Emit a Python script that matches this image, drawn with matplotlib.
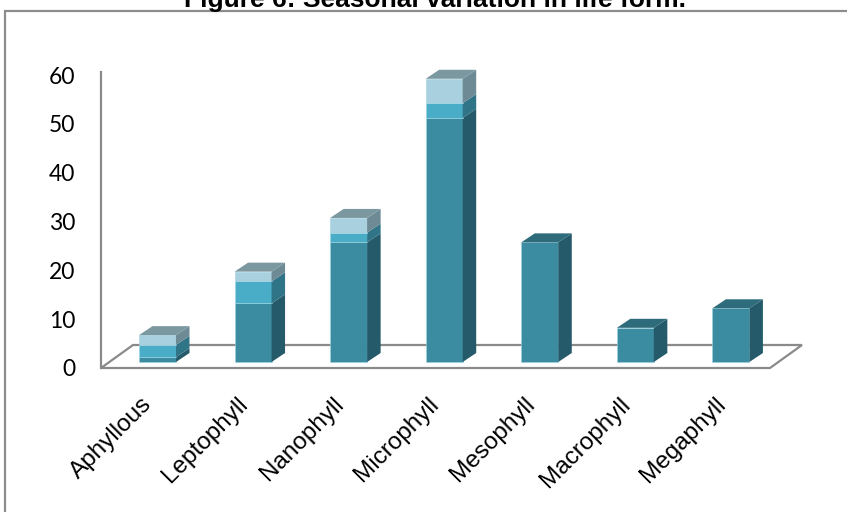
import matplotlib
matplotlib.use("Agg")
import matplotlib.pyplot as plt
from matplotlib.patches import Polygon, Rectangle

categories = ["Aphyllous", "Leptophyll", "Nanophyll", "Microphyll",
              "Mesophyll", "Macrophyll", "Megaphyll"]
# three stacked series, bottom to top
series_1 = [1, 12, 24.5, 50, 24.5, 7, 11]
series_2 = [2.5, 4.5, 2, 3, 0, 0, 0]
series_3 = [2, 2, 3, 5, 0, 0, 0]
yticks = [0, 10, 20, 30, 40, 50, 60]

# front / side / top shades for each series
colors = [
    ("#3b8ba1", "#245a69", "#2e6c7b"),
    ("#4aadc7", "#2f7487", "#357f93"),
    ("#a9d0de", "#6e8a94", "#7b979f"),
]

W, H = 847, 512


def main():
    fig = plt.figure(figsize=(W / 100, H / 100), dpi=100)

    # chart area border (runs off the right and bottom of the image)
    fig.patches.append(Rectangle((5 / W, -0.2), 2.0, 1.2 - 11 / H,
                                 transform=fig.transFigure, fill=False,
                                 edgecolor="#8c8c8c", lw=1.6))
    fig.text(435 / W, 1 - 7 / H, "Figure 6: Seasonal variation in life form.",
             ha="center", va="baseline", fontsize=19, fontweight="bold",
             family="Liberation Sans")

    ax = fig.add_axes([101 / W, 144 / H, 669 / W, 293 / H])
    ax.set_xlim(-0.5, 6.5)
    ax.set_ylim(0, 60)
    for s in ax.spines.values():
        s.set_visible(False)
    ax.patch.set_visible(False)

    px_x = 669 / 7
    px_y = 293 / 60
    bw = 37 / px_x
    ox, oy = 8.7 / px_x, 6 / px_y        # bar plane offset behind front
    dx, dy = 13.5 / px_x, 9 / px_y       # bar depth
    fx, fy = 32 / px_x, 23 / px_y        # floor depth

    # floor and value axis line
    floor = [(-0.5, 0), (6.5, 0), (6.5 + fx, fy), (-0.5 + fx, fy)]
    ax.add_patch(Polygon(floor, closed=True, fill=False, edgecolor="#8a8a8a",
                         lw=1.6, zorder=1, clip_on=False))
    ax.plot([-0.5, -0.5], [0, 60.6], color="#8a8a8a", lw=1.6, zorder=1,
            clip_on=False)

    data = [series_1, series_2, series_3]
    base = [0.0] * len(categories)
    top_idx = [max([k for k in range(3) if data[k][i] > 0])
               for i in range(len(categories))]
    for k, vals in enumerate(data):
        front, side, top = colors[k]
        for i, v in enumerate(vals):
            if v <= 0:
                continue
            x = i + ox
            b = base[i] + oy
            t = b + v
            ax.bar(x, v, width=bw, bottom=b, color=front,
                   edgecolor="#9fd3e3", lw=0.4, zorder=3, clip_on=False)
            r = x + bw / 2
            ax.add_patch(Polygon([(r, b), (r + dx, b + dy), (r + dx, t + dy),
                                  (r, t)], closed=True, facecolor=side,
                                 edgecolor="none", zorder=3, clip_on=False))
            if k == top_idx[i]:
                l = x - bw / 2
                ax.add_patch(Polygon([(l, t), (r, t), (r + dx, t + dy),
                                      (l + dx, t + dy)], closed=True,
                                     facecolor=top, edgecolor="none",
                                     zorder=3, clip_on=False))
            base[i] += v

    ax.set_yticks(yticks)
    ax.set_yticklabels([str(t) for t in yticks], fontsize=16.5, family="Lato")
    ax.tick_params(axis="y", length=0, pad=18.5)

    ax.set_xticks(range(len(categories)))
    ax.set_xticklabels(categories, fontsize=17.5, family="Liberation Sans",
                       rotation=45, ha="right", rotation_mode="anchor")
    for lab in ax.get_xticklabels():
        lab.set_va("center")
    ax.tick_params(axis="x", length=0, pad=24)

    fig.savefig("out.png", dpi=100)


if __name__ == "__main__":
    main()
